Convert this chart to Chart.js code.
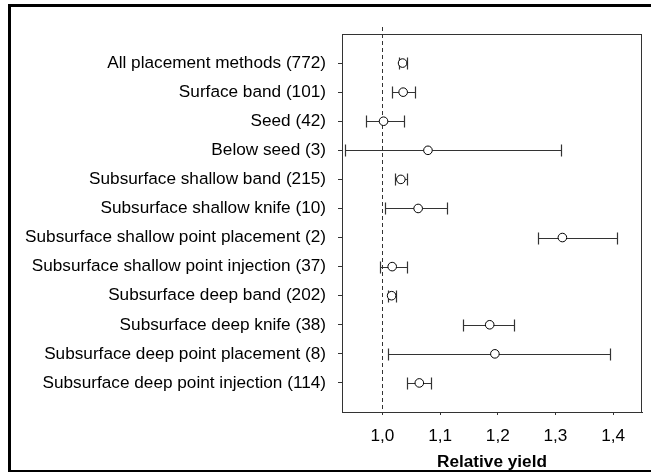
<!DOCTYPE html>
<html>
<head>
<meta charset="utf-8">
<script src="https://cdn.jsdelivr.net/npm/chart.js@4"></script>
<style>
  html, body { margin: 0; padding: 0; background: #fff; overflow: hidden; }
  #wrap { position: relative; width: 651px; height: 472px; overflow: hidden; }
  #frame { position: absolute; left: 8px; top: 4px; width: 700px; height: 469px;
           border: 3px solid #000; box-sizing: border-box; pointer-events: none; }
  canvas { position: absolute; left: 0; top: 0; }
</style>
</head>
<body>
<div id="wrap">
  <canvas id="c" width="651" height="472"></canvas>
  <div id="frame"></div>
</div>
<script>
// Placement methods (number of observations)
const categories = [
  'All placement methods (772)',
  'Surface band (101)',
  'Seed (42)',
  'Below seed (3)',
  'Subsurface shallow band (215)',
  'Subsurface shallow knife (10)',
  'Subsurface shallow point placement (2)',
  'Subsurface shallow point injection (37)',
  'Subsurface deep band (202)',
  'Subsurface deep knife (38)',
  'Subsurface deep point placement (8)',
  'Subsurface deep point injection (114)'
];
// Mean relative yield and confidence limits
const meanYield  = [1.035, 1.036, 1.002, 1.079, 1.032, 1.062, 1.312, 1.017, 1.016, 1.186, 1.195, 1.064];
const lowerLimit = [1.029, 1.017, 0.971, 0.935, 1.022, 1.004, 1.269, 0.996, 1.009, 1.140, 1.009, 1.043];
const upperLimit = [1.043, 1.057, 1.038, 1.310, 1.043, 1.112, 1.407, 1.043, 1.024, 1.228, 1.395, 1.085];
const xTicks = [1.0, 1.1, 1.2, 1.3, 1.4];
const referenceYield = 1.0;

const FONT = "'Liberation Sans', Arial, sans-serif";
const LINE = '#333';

const points = meanYield.map((v, i) => ({ x: v, y: i + 1 }));

// Horizontal confidence intervals with end caps
const errorBars = {
  id: 'errorBars',
  beforeDatasetsDraw(chart) {
    const { ctx, scales: { x, y } } = chart;
    ctx.save();
    ctx.strokeStyle = LINE;
    ctx.lineWidth = 1.2;
    categories.forEach((_, i) => {
      const py = Math.round(y.getPixelForValue(i + 1)) + 0.5;
      const x0 = Math.round(x.getPixelForValue(lowerLimit[i])) + 0.5;
      const x1 = Math.round(x.getPixelForValue(upperLimit[i])) + 0.5;
      ctx.beginPath();
      ctx.moveTo(x0, py); ctx.lineTo(x1, py);
      ctx.moveTo(x0, py - 6); ctx.lineTo(x0, py + 6);
      ctx.moveTo(x1, py - 6); ctx.lineTo(x1, py + 6);
      ctx.stroke();
    });
    ctx.restore();
  }
};

// Box around the plot and dashed reference line at relative yield 1
const plotFrame = {
  id: 'plotFrame',
  beforeDatasetsDraw(chart) {
    const { ctx, chartArea: a, scales: { x } } = chart;
    ctx.save();
    ctx.strokeStyle = LINE;
    ctx.lineWidth = 1;
    ctx.strokeRect(Math.round(a.left) + 0.5, Math.round(a.top) + 0.5,
                   Math.round(a.right - a.left) - 1, Math.round(a.bottom - a.top));
    const rx = Math.round(x.getPixelForValue(referenceYield)) + 0.5;
    ctx.setLineDash([4, 3]);
    ctx.beginPath();
    ctx.moveTo(rx, a.top - 7);
    ctx.lineTo(rx, a.bottom);
    ctx.stroke();
    ctx.restore();
  }
};

new Chart(document.getElementById('c'), {
  type: 'scatter',
  data: {
    datasets: [{
      data: points,
      pointStyle: 'circle',
      pointRadius: 4.3,
      pointHoverRadius: 4.3,
      pointBackgroundColor: '#fff',
      pointBorderColor: '#000',
      pointBorderWidth: 1
    }]
  },
  options: {
    responsive: false,
    animation: false,
    events: [],
    layout: { padding: { left: 0, top: 34, right: 9, bottom: 0 } },
    plugins: { legend: { display: false }, tooltip: { enabled: false } },
    scales: {
      x: {
        type: 'linear',
        min: 0.93,
        max: 1.45,
        afterBuildTicks: s => { s.ticks = xTicks.map(v => ({ value: v })); },
        afterFit: s => { s.height = 60; },
        ticks: {
          color: '#000',
          font: { family: FONT, size: 17.2 },
          padding: 11,
          callback: v => v.toFixed(1).replace('.', ',')
        },
        grid: { drawOnChartArea: false, drawTicks: true, tickLength: 3, color: LINE },
        border: { display: true, color: LINE, width: 1 },
        title: {
          display: true,
          text: 'Relative yield',
          color: '#000',
          font: { family: FONT, size: 17.2, weight: 'bold' },
          padding: { top: 0, bottom: -1 }
        }
      },
      y: {
        type: 'linear',
        min: 0,
        max: 13,
        reverse: true,
        afterBuildTicks: s => { s.ticks = categories.map((_, i) => ({ value: i + 1 })); },
        afterFit: s => { s.width = 342; },
        ticks: {
          color: '#000',
          font: { family: FONT, size: 17.2 },
          padding: 12,
          callback: v => categories[v - 1]
        },
        grid: { drawOnChartArea: false, drawTicks: true, tickLength: 4, color: LINE },
        border: { display: true, color: LINE, width: 1 }
      }
    }
  },
  plugins: [plotFrame, errorBars]
});
</script>
</body>
</html>
